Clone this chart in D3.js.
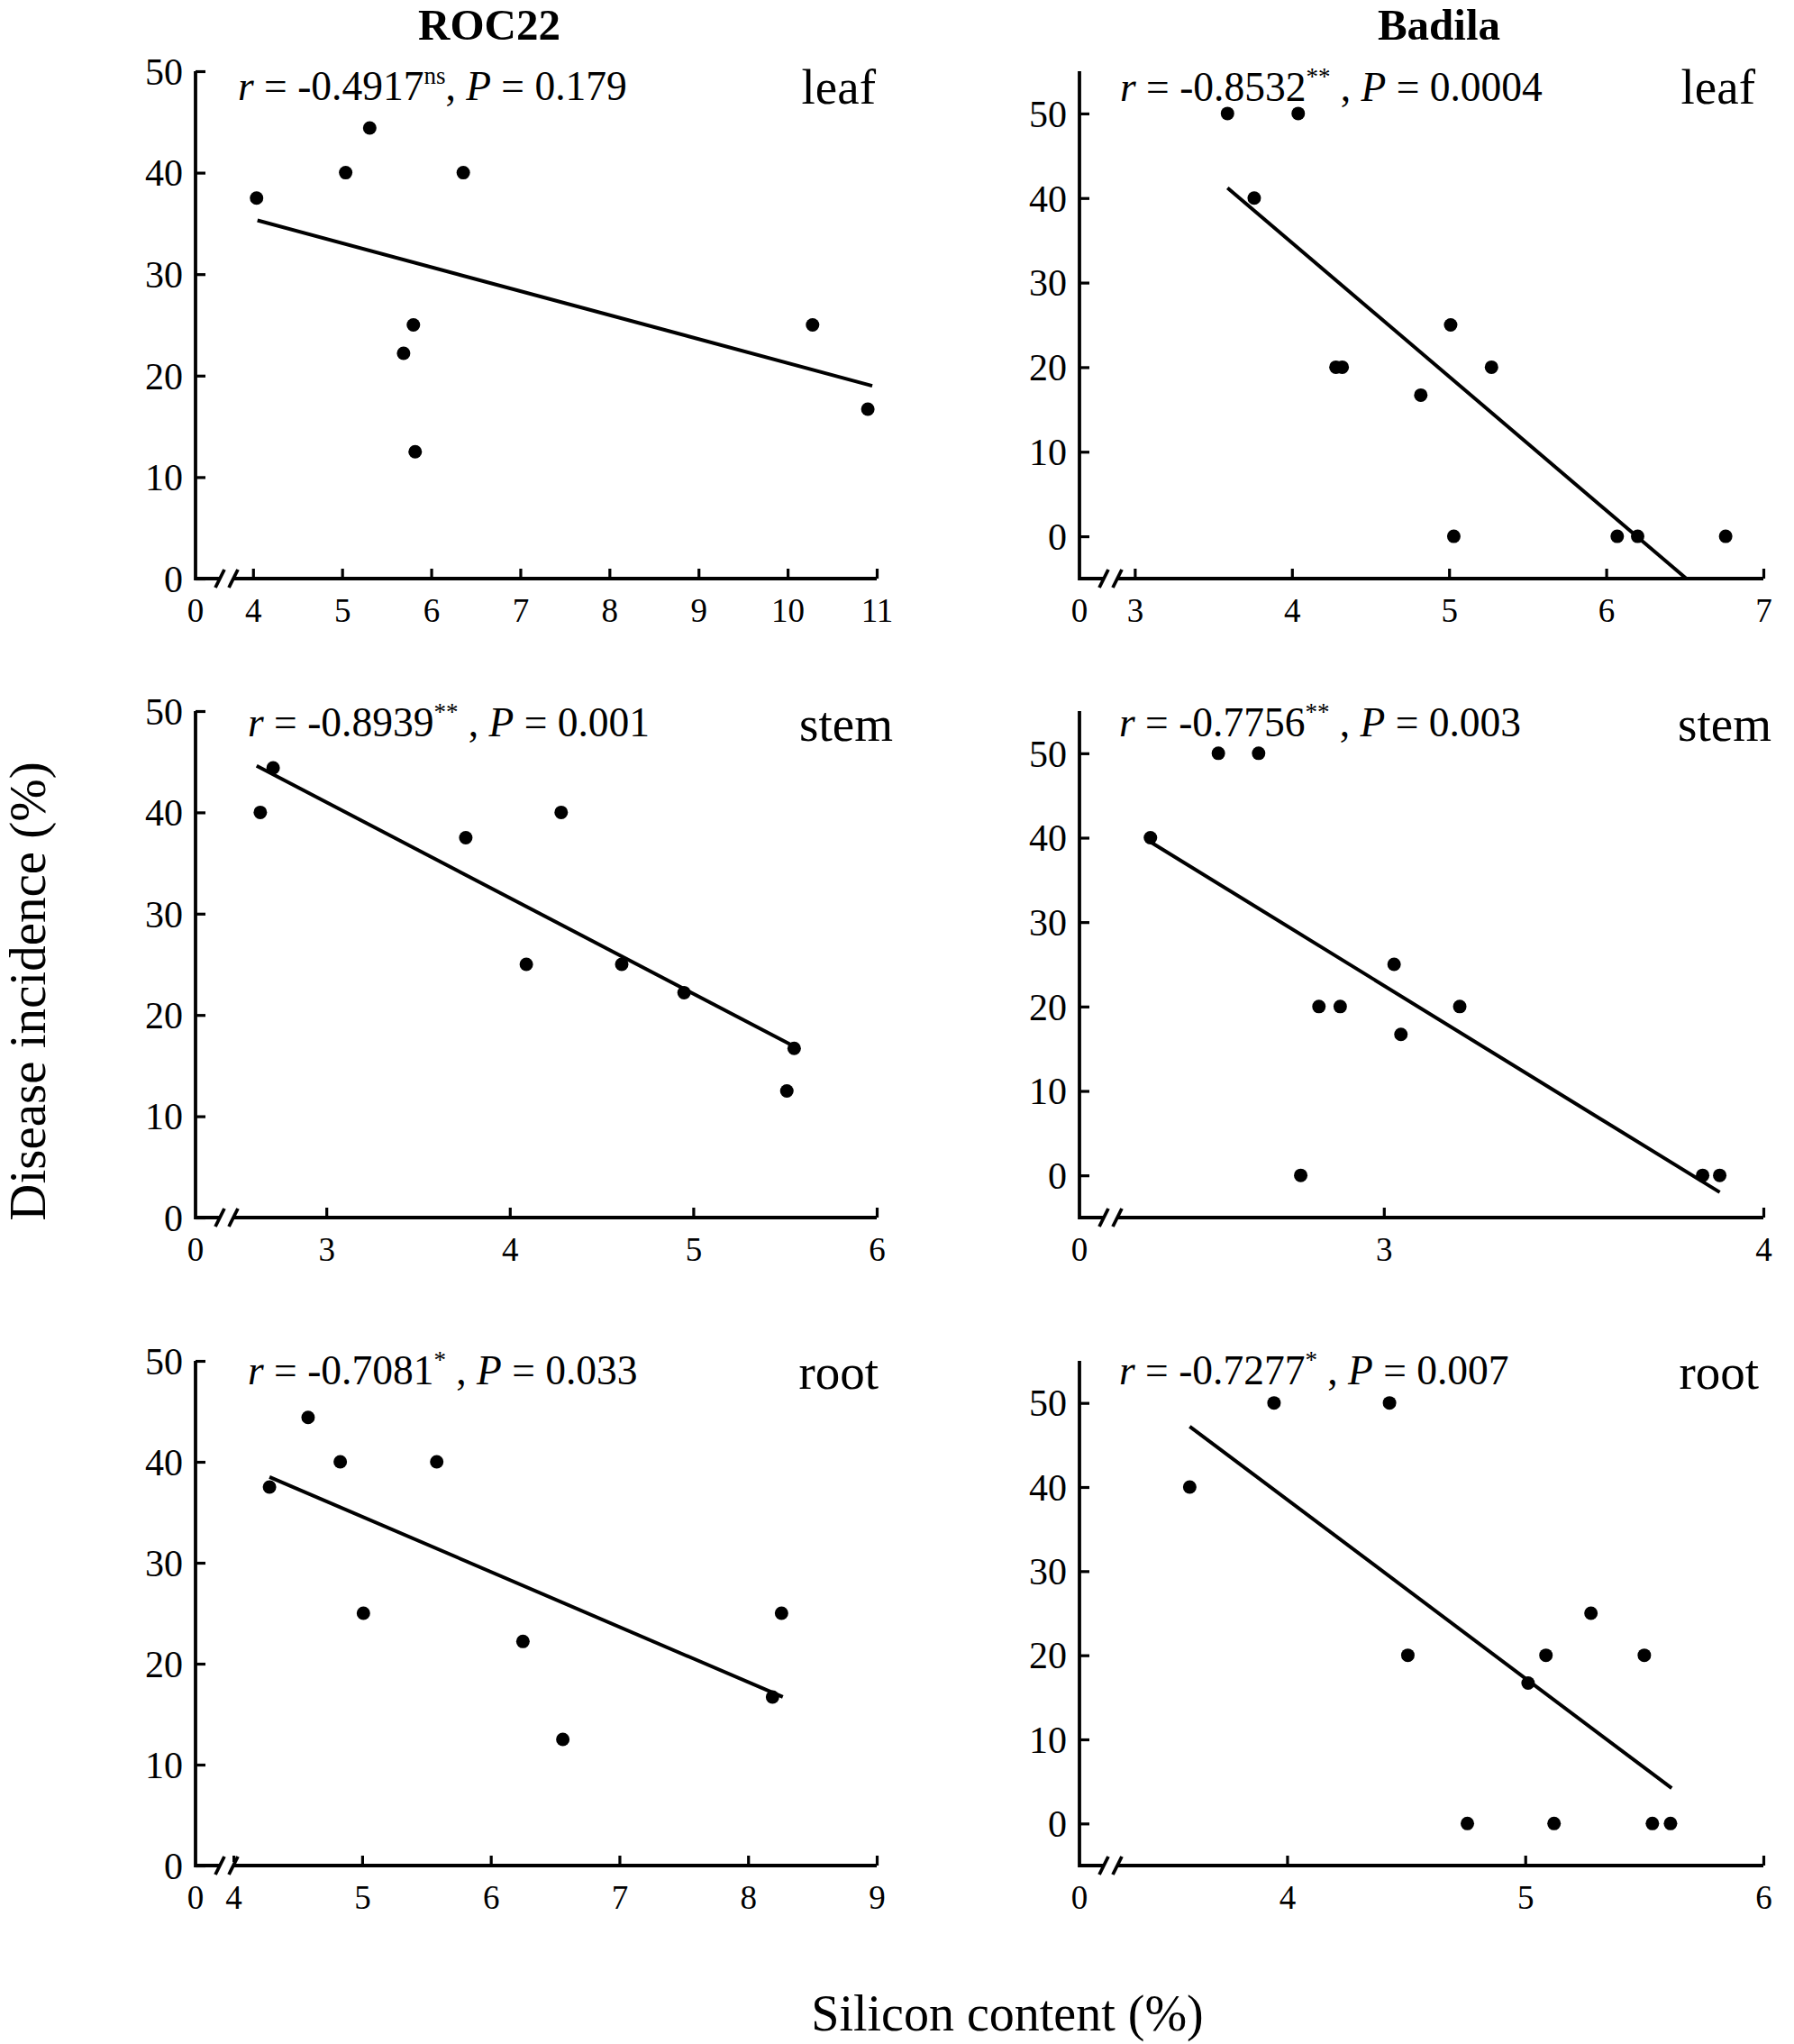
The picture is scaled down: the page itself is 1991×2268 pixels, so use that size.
<!DOCTYPE html>
<html>
<head>
<meta charset="utf-8">
<script src="https://cdn.jsdelivr.net/npm/d3@7/dist/d3.min.js"></script>
<style>
  html, body { margin: 0; padding: 0; background: #fff; }
  svg { display: block; }
  text { font-family: "Liberation Serif", "Times New Roman", serif; fill: #000; }
</style>
</head>
<body>
<svg id="chart" width="1991" height="2268"></svg>
<script>
// ---------------- DATA ----------------
const cultivars = ["ROC22", "Badila"];
const tissues = ["leaf", "stem", "root"];

// ROC22 leaf
const roc22LeafX = [4.04, 5.04, 5.31, 6.36, 5.80, 5.69, 5.82, 10.28, 10.90];
const roc22LeafY = [37.5, 40, 44.4, 40, 25, 22.2, 12.5, 25, 16.7];
const roc22LeafFitX = [4.05, 10.95];
const roc22LeafFitY = [35.3, 19.0];
const roc22LeafXDomain = [3.355, 11];
const roc22LeafXTicks = [4, 5, 6, 7, 8, 9, 10, 11];

// Badila leaf
const badilaLeafX = [3.59, 4.04, 3.76, 4.28, 4.32, 5.01, 5.27, 4.82, 5.03, 6.07, 6.20, 6.76];
const badilaLeafY = [50, 50, 40, 20, 20, 25, 20, 16.7, 0, 0, 0, 0];
const badilaLeafFitX = [3.59, 6.51];
const badilaLeafFitY = [41.2, -5];
const badilaLeafXDomain = [2.648, 7];
const badilaLeafXTicks = [3, 4, 5, 6, 7];

// ROC22 stem
const roc22StemX = [2.64, 2.71, 3.76, 4.28, 4.09, 4.61, 4.95, 5.55, 5.51];
const roc22StemY = [40, 44.4, 37.5, 40, 25, 25, 22.2, 16.7, 12.5];
const roc22StemFitX = [2.62, 5.54];
const roc22StemFitY = [44.6, 17.0];
const roc22StemXDomain = [2.287, 6];
const roc22StemXTicks = [3, 4, 5, 6];

// Badila stem
const badilaStemX = [2.385, 2.564, 2.670, 2.829, 2.885, 3.027, 3.200, 3.045, 2.781, 3.840, 3.885];
const badilaStemY = [40, 50, 50, 20, 20, 25, 20, 16.7, 0, 0, 0];
const badilaStemFitX = [2.385, 3.885];
const badilaStemFitY = [39.5, -2.0];
const badilaStemXDomain = [2.198, 4];
const badilaStemXTicks = [3, 4];

// ROC22 root
const roc22RootX = [4.28, 4.58, 4.83, 5.58, 5.01, 6.25, 6.56, 8.26, 8.19];
const roc22RootY = [37.5, 44.4, 40, 40, 25, 22.2, 12.5, 25, 16.7];
const roc22RootFitX = [4.28, 8.27];
const roc22RootFitY = [38.5, 16.7];
const roc22RootXDomain = [3.705, 9];
const roc22RootXTicks = [4, 5, 6, 7, 8, 9];

// Badila root
const badilaRootX = [3.591, 3.945, 4.430, 4.507, 4.757, 5.012, 5.087, 5.121, 5.276, 5.500, 5.534, 5.610];
const badilaRootY = [40, 50, 50, 20, 0, 16.7, 20, 0, 25, 20, 0, 0];
const badilaRootFitX = [3.591, 5.615];
const badilaRootFitY = [47.2, 4.2];
const badilaRootXDomain = [3.128, 6];
const badilaRootXTicks = [4, 5, 6];

// y axes
const roc22YDomain = [0, 50];
const badilaYDomain = [-5, 55];
const yTicks = [0, 10, 20, 30, 40, 50];
const breakLabel = "0";

// statistics
const rValues = ["-0.4917", "-0.8532", "-0.8939", "-0.7756", "-0.7081", "-0.7277"];
const sigMarks = ["ns", "**", "**", "**", "*", "*"];
const pValues = ["0.179", "0.0004", "0.001", "0.003", "0.033", "0.007"];

const yTitle = "Disease incidence (%)";
const xTitle = "Silicon content (%)";

// ---------------- LAYOUT ----------------
const colX = [[217, 973], [1198, 1957]];
const rowY = [[79, 642], [789, 1351], [1510, 2070]];
const textLayout = [
  {ax: 264, ay: 111, lx: 972, ly: 115},
  {ax: 1243, ay: 112, lx: 1948, ly: 115},
  {ax: 275, ay: 817, lx: 991, ly: 822},
  {ax: 1242, ay: 817, lx: 1966, ly: 822},
  {ax: 275, ay: 1536, lx: 975, ly: 1541},
  {ax: 1242, ay: 1536, lx: 1952, ly: 1541}
];

const panels = [
  {x: roc22LeafX, y: roc22LeafY, fx: roc22LeafFitX, fy: roc22LeafFitY, xd: roc22LeafXDomain, xt: roc22LeafXTicks, yd: roc22YDomain},
  {x: badilaLeafX, y: badilaLeafY, fx: badilaLeafFitX, fy: badilaLeafFitY, xd: badilaLeafXDomain, xt: badilaLeafXTicks, yd: badilaYDomain},
  {x: roc22StemX, y: roc22StemY, fx: roc22StemFitX, fy: roc22StemFitY, xd: roc22StemXDomain, xt: roc22StemXTicks, yd: roc22YDomain},
  {x: badilaStemX, y: badilaStemY, fx: badilaStemFitX, fy: badilaStemFitY, xd: badilaStemXDomain, xt: badilaStemXTicks, yd: badilaYDomain},
  {x: roc22RootX, y: roc22RootY, fx: roc22RootFitX, fy: roc22RootFitY, xd: roc22RootXDomain, xt: roc22RootXTicks, yd: roc22YDomain},
  {x: badilaRootX, y: badilaRootY, fx: badilaRootFitX, fy: badilaRootFitY, xd: badilaRootXDomain, xt: badilaRootXTicks, yd: badilaYDomain}
];

const svg = d3.select("#chart");
const AXW = 3.8;

// column titles
svg.selectAll("text.coltitle").data(cultivars).enter().append("text")
  .attr("class", "coltitle")
  .attr("x", (d, i) => [543, 1597][i])
  .attr("y", 44)
  .attr("text-anchor", "middle")
  .attr("font-size", 49)
  .attr("font-weight", "bold")
  .text(d => d);

panels.forEach((p, i) => {
  const col = i % 2, row = Math.floor(i / 2);
  const [x0, x1] = colX[col];
  const [top, bottom] = rowY[row];
  const xs = d3.scaleLinear().domain(p.xd).range([x0, x1]);
  const ys = d3.scaleLinear().domain(p.yd).range([bottom, top]);
  const g = svg.append("g");

  // y axis ticks + labels
  const yAx = g.append("g").attr("transform", `translate(${x0},0)`)
    .call(d3.axisLeft(ys).tickValues(yTicks).tickSizeInner(-11).tickSizeOuter(0).tickPadding(14).tickFormat(d3.format("d")));
  yAx.select(".domain").remove();
  yAx.selectAll(".tick line").attr("stroke", "#000").attr("stroke-width", 3.2);
  yAx.selectAll(".tick text").attr("font-size", 42).attr("font-family", "Liberation Serif, Times New Roman, serif").attr("dy", "0.34em");

  // x axis ticks + labels
  const xAx = g.append("g").attr("transform", `translate(0,${bottom})`)
    .call(d3.axisBottom(xs).tickValues(p.xt).tickSizeInner(-11).tickSizeOuter(0).tickPadding(22).tickFormat(d3.format("d")));
  xAx.select(".domain").remove();
  xAx.selectAll(".tick line").attr("stroke", "#000").attr("stroke-width", 3.2);
  xAx.selectAll(".tick text").attr("font-size", 37).attr("font-family", "Liberation Serif, Times New Roman, serif");

  // break "0" label at origin
  g.append("text")
    .attr("x", xs(p.xd[0])).attr("y", bottom + 22).attr("dy", "0.71em")
    .attr("text-anchor", "middle").attr("font-size", 37)
    .text(breakLabel);

  // axis lines
  g.append("path")
    .attr("d", `M${x0},${ys(p.yd[1])}V${bottom}H${x1}`)
    .attr("fill", "none").attr("stroke", "#000").attr("stroke-width", AXW)
    .attr("stroke-linejoin", "miter");

  // axis break marks
  const b1 = x0 + 27, b2 = x0 + 42;
  g.append("rect").attr("x", b1).attr("y", bottom - 4).attr("width", b2 - b1).attr("height", 8).attr("fill", "#fff");
  [b1, b2].forEach(bx => {
    g.append("line")
      .attr("x1", bx - 5).attr("y1", bottom + 10)
      .attr("x2", bx + 5).attr("y2", bottom - 10)
      .attr("stroke", "#000").attr("stroke-width", 3.8);
  });

  // regression line
  const fit = p.fx.map((v, k) => [v, p.fy[k]]);
  g.append("path")
    .attr("d", d3.line().x(d => xs(d[0])).y(d => ys(d[1]))(fit))
    .attr("fill", "none").attr("stroke", "#000").attr("stroke-width", 4);

  // points
  const pts = p.x.map((v, k) => [v, p.y[k]]);
  g.selectAll("circle").data(pts).enter().append("circle")
    .attr("cx", d => xs(d[0])).attr("cy", d => ys(d[1])).attr("r", 7.5).attr("fill", "#000");

  // annotation
  const L = textLayout[i];
  const t = g.append("text").attr("x", L.ax).attr("y", L.ay).attr("font-size", 45.5);
  t.append("tspan").attr("font-style", "italic").text("r");
  t.append("tspan").text(" = " + rValues[i]);
  t.append("tspan").attr("font-size", 27).attr("dy", -18).text(sigMarks[i]);
  t.append("tspan").attr("dy", 18).text(i === 0 ? ", " : " , ");
  t.append("tspan").attr("font-style", "italic").text("P");
  t.append("tspan").text(" = " + pValues[i]);

  // tissue label
  g.append("text").attr("x", L.lx).attr("y", L.ly).attr("text-anchor", "end")
    .attr("font-size", 55).text(tissues[row]);
});

// axis titles
svg.append("text")
  .attr("transform", "translate(50,1100) rotate(-90)")
  .attr("text-anchor", "middle").attr("font-size", 57)
  .text(yTitle);
svg.append("text")
  .attr("x", 1118).attr("y", 2253)
  .attr("text-anchor", "middle").attr("font-size", 56)
  .text(xTitle);
</script>
</body>
</html>
